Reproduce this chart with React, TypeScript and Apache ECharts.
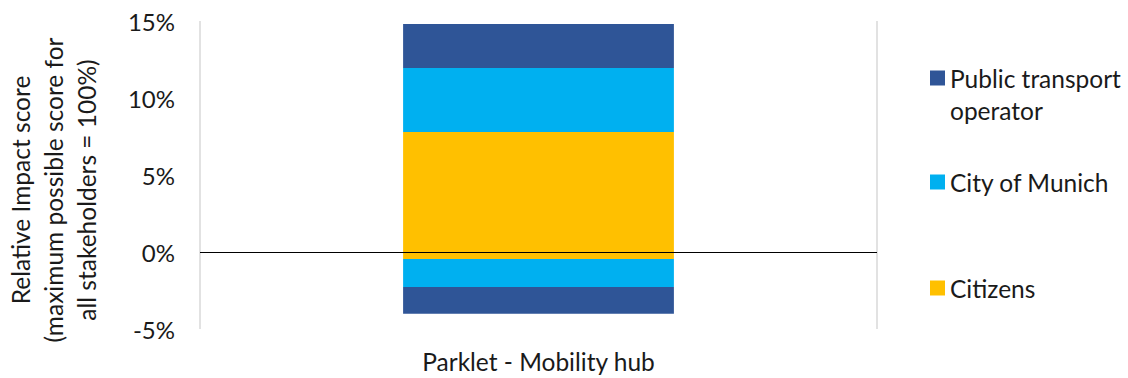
import React, { useEffect, useRef } from "react";
import * as echarts from "echarts";

const categories = ["Parklet - Mobility hub"];
const seriesNames = ["Citizens", "City of Munich", "Public transport operator"];
const positiveValues = [7.79, 4.16, 2.85];
const negativeValues = [-0.45, -1.82, -1.74];
const colors = ["#FFC000", "#00B0F0", "#2F5597"];
const yTicks = { min: -5, max: 15, interval: 5 };

const FONT = "Lato";
const TEXT = "#1a1a1a";
const FS = 24.5;

export default function App() {
  const ref = useRef<HTMLDivElement>(null);
  useEffect(() => {
    if (!ref.current) return;
    document.body.style.margin = "0";
    const chart = echarts.init(ref.current, null, { renderer: "svg" });
    const series: any[] = [];
    seriesNames.forEach((name, i) => {
      series.push({
        name,
        type: "bar",
        stack: "total",
        barWidth: "40%",
        data: [positiveValues[i]],
        itemStyle: { color: colors[i] },
        ...(i === 0
          ? {
              markLine: {
                silent: true,
                symbol: "none",
                label: { show: false },
                lineStyle: { color: "#000", width: 1, type: "solid" },
                data: [{ yAxis: 0 }],
              },
            }
          : {}),
      });
    });
    seriesNames.forEach((name, i) => {
      series.push({
        name,
        type: "bar",
        stack: "total",
        barWidth: "40%",
        data: [negativeValues[i]],
        itemStyle: { color: colors[i] },
      });
    });
    const legendBase = {
      orient: "vertical",
      left: 930,
      padding: 0,
      itemWidth: 15,
      itemHeight: 15,
      itemGap: 0,
      icon: "rect",
      selectedMode: false,
    };
    chart.setOption({
      animation: false,
      color: colors,
      textStyle: { fontFamily: FONT },
      grid: { left: 200, right: 251, top: 21, bottom: 49, containLabel: false },
      legend: [
        {
          ...legendBase,
          top: 30,
          data: ["Public transport operator"],
          formatter: () => " \nPublic transport\noperator",
          textStyle: { fontFamily: FONT, fontSize: FS, color: TEXT, lineHeight: 32 },
        },
        {
          ...legendBase,
          top: 166,
          data: ["City of Munich"],
          textStyle: { fontFamily: FONT, fontSize: FS, color: TEXT, lineHeight: 32 },
        },
        {
          ...legendBase,
          top: 272,
          data: ["Citizens"],
          textStyle: { fontFamily: FONT, fontSize: FS, color: TEXT, lineHeight: 32 },
        },
      ],
      xAxis: {
        type: "category",
        data: categories,
        axisLine: { show: false, onZero: false },
        axisTick: { show: false },
        axisLabel: { fontFamily: FONT, fontSize: FS, color: TEXT, margin: 20 },
        splitLine: { show: true, lineStyle: { color: "#D9D9D9", width: 1.5 } },
      },
      yAxis: {
        type: "value",
        min: yTicks.min,
        max: yTicks.max,
        interval: yTicks.interval,
        axisLine: { show: false },
        axisTick: { show: false },
        splitLine: { show: false },
        axisLabel: { formatter: "{value}%", fontFamily: FONT, fontSize: 24, color: TEXT, margin: 25 },
      },
      graphic: [
        {
          type: "text",
          x: 53,
          y: 190,
          rotation: Math.PI / 2,
          style: {
            text: "Relative Impact score\n(maximum possible score for\nall stakeholders = 100%)",
            align: "center",
            verticalAlign: "middle",
            fontFamily: FONT,
            fontSize: FS,
            lineHeight: 33,
            fill: TEXT,
          },
        },
      ],
      series,
    });
    return () => chart.dispose();
  }, []);
  return <div ref={ref} style={{ width: 1128, height: 378 }} />;
}
